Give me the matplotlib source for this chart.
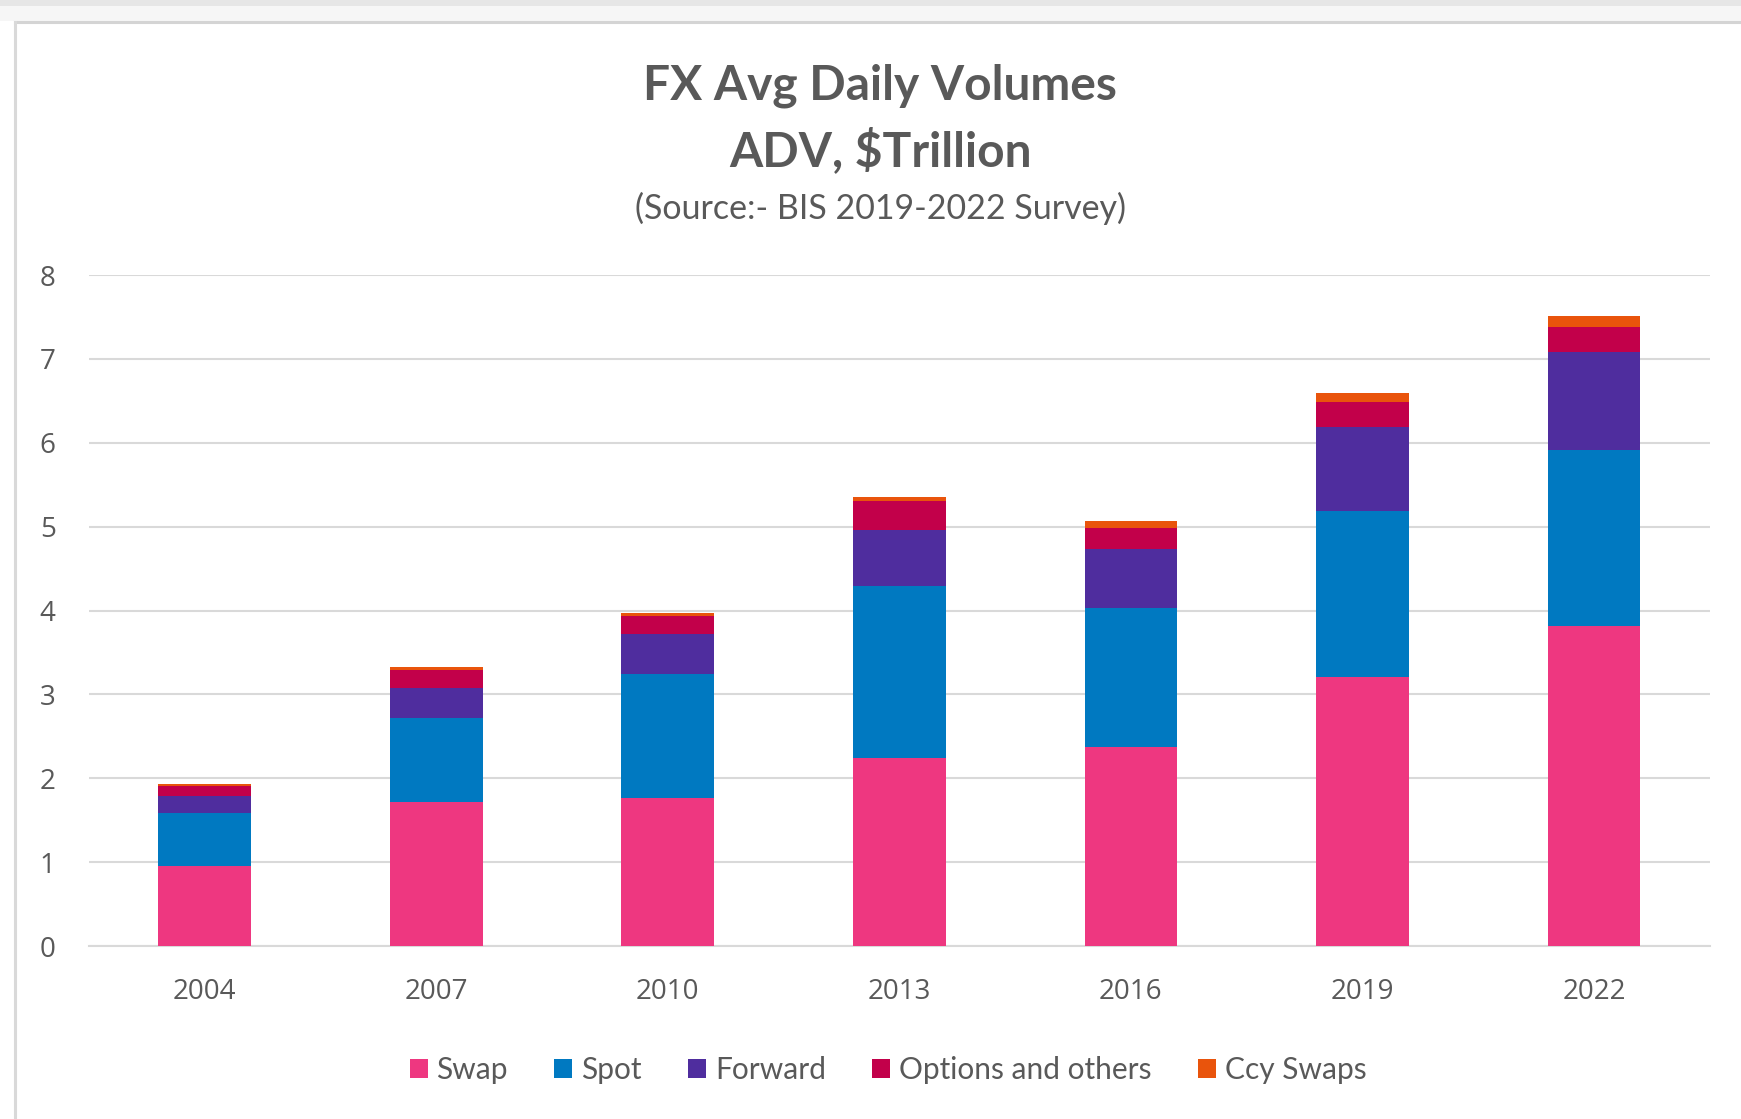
import matplotlib.pyplot as plt
import numpy as np
from matplotlib.patches import Rectangle
from matplotlib.lines import Line2D

# BIS triennial survey, daily averages in $ trillion
years = ['2004', '2007', '2010', '2013', '2016', '2019', '2022']
swap = [0.954, 1.714, 1.759, 2.240, 2.378, 3.202, 3.810]
spot = [0.631, 1.005, 1.489, 2.047, 1.652, 1.987, 2.107]
forward = [0.209, 0.362, 0.475, 0.679, 0.700, 0.999, 1.163]
options = [0.119, 0.212, 0.207, 0.337, 0.254, 0.294, 0.304]
ccy_swaps = [0.021, 0.031, 0.043, 0.054, 0.082, 0.108, 0.124]

series = ['Swap', 'Spot', 'Forward', 'Options and others', 'Ccy Swaps']
colors = ['#ee3780', '#0079c1', '#4f2d9e', '#c2004a', '#e9540c']

txt = '#595959'
fig = plt.figure(figsize=(17.41, 11.19), dpi=100, facecolor='white')

# window chrome around the chart
W, H = 1741, 1119
fig.patches.append(Rectangle((0, 1 - 6 / H), 1, 6 / H, transform=fig.transFigure,
                             facecolor='#e6e6e6', edgecolor='none', zorder=0))
fig.patches.append(Rectangle((0, 1 - 21 / H), 1, 15 / H, transform=fig.transFigure,
                             facecolor='#f6f6f6', edgecolor='none', zorder=0))
fig.lines.append(Line2D([15 / W, 1], [1 - 22 / H, 1 - 22 / H], transform=fig.transFigure,
                        color='#d4d4d4', lw=2.2))
fig.lines.append(Line2D([15 / W, 15 / W], [0, 1 - 22 / H], transform=fig.transFigure,
                        color='#d9d9d9', lw=2.2))

ax = fig.add_axes([0.0511, 0.1546, 0.9309, 0.5996])
x = np.arange(len(years))
bottom = np.zeros(len(years))
for name, vals, c in zip(series, [swap, spot, forward, options, ccy_swaps], colors):
    ax.bar(x, vals, 0.4, bottom=bottom, color=c, label=name, zorder=3)
    bottom += np.array(vals)

ax.set_xlim(-0.5, 6.5)
ax.set_ylim(0, 8)
ax.set_yticks(range(0, 9))
ax.set_xticks(x)
ax.set_xticklabels(years)
ax.grid(axis='y', color='#d9d9d9', lw=1.5, zorder=0)
for s in ['top', 'right', 'left']:
    ax.spines[s].set_visible(False)
ax.spines['bottom'].set_color('#d9d9d9')
ax.spines['bottom'].set_linewidth(1.5)
ax.tick_params(axis='both', length=0, labelsize=20, labelcolor=txt)
ax.tick_params(axis='y', pad=24)
ax.tick_params(axis='x', pad=23)
for lab in ax.get_xticklabels() + ax.get_yticklabels():
    lab.set_family('Open Sans')

fig.text(0.5056, 0.9235, 'FX Avg Daily Volumes', ha='center', va='center',
         fontsize=34.5, fontweight='bold', color=txt, family='Lato')
fig.text(0.5056, 0.865, 'ADV, $Trillion', ha='center', va='center',
         fontsize=34.5, fontweight='bold', color=txt, family='Lato')
fig.text(0.5056, 0.8135, '(Source:- BIS 2019-2022 Survey)', ha='center', va='center',
         fontsize=24.5, color=txt, family='Lato')

leg = fig.legend(loc='center', bbox_to_anchor=(0.51, 0.0435), ncol=5, frameon=False,
                 handlelength=0.6, handleheight=0.6, handletextpad=0.3, columnspacing=1.55,
                 prop={'family': 'Lato', 'size': 21.5})
for t in leg.get_texts():
    t.set_color(txt)

fig.savefig('out.png', dpi=100, facecolor='white')
